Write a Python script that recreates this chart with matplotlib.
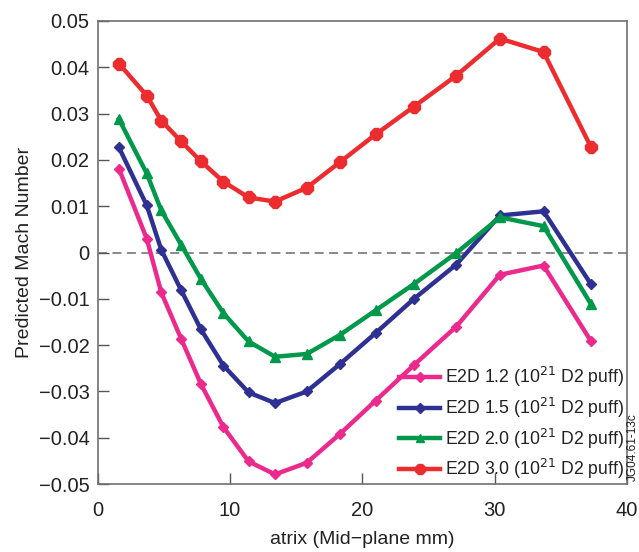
import matplotlib
matplotlib.use("Agg")
import matplotlib.pyplot as plt

plt.rcParams['font.family'] = ['Liberation Sans', 'DejaVu Sans']

x = [1.6, 3.7, 4.8, 6.3, 7.8, 9.5, 11.4, 13.4, 15.8, 18.3, 21.0, 23.9, 27.1, 30.4, 33.7, 37.3]
e2d_12 = [0.0181, 0.0030, -0.0086, -0.0186, -0.0284, -0.0377, -0.0451, -0.0479, -0.0454, -0.0392,
          -0.0320, -0.0243, -0.0160, -0.0048, -0.0028, -0.0192]
e2d_15 = [0.0227, 0.0102, 0.0006, -0.0081, -0.0166, -0.0244, -0.0302, -0.0325, -0.0300, -0.0241,
          -0.0174, -0.0100, -0.0026, 0.0080, 0.0089, -0.0069]
e2d_20 = [0.0288, 0.0171, 0.0091, 0.0017, -0.0057, -0.0131, -0.0192, -0.0225, -0.0219, -0.0178,
          -0.0125, -0.0068, -0.0001, 0.0076, 0.0057, -0.0112]
e2d_30 = [0.0408, 0.0339, 0.0285, 0.0240, 0.0197, 0.0153, 0.0119, 0.0110, 0.0140, 0.0195,
          0.0255, 0.0315, 0.0382, 0.0462, 0.0433, 0.0227]
labels = ['E2D 1.2 (10$^{21}$ D2 puff)', 'E2D 1.5 (10$^{21}$ D2 puff)',
          'E2D 2.0 (10$^{21}$ D2 puff)', 'E2D 3.0 (10$^{21}$ D2 puff)']
xticks = [0, 10, 20, 30, 40]
yticks = [-0.05, -0.04, -0.03, -0.02, -0.01, 0, 0.01, 0.02, 0.03, 0.04, 0.05]
ytick_labels = ['\u22120.05', '\u22120.04', '\u22120.03', '\u22120.02', '\u22120.01', '0',
                '0.01', '0.02', '0.03', '0.04', '0.05']

fig = plt.figure(figsize=(6.39, 5.52), dpi=100)
ax = fig.add_axes([0.153, 0.123, 0.828, 0.839])

ax.axhline(0, color='#808080', lw=1.3, ls=(0, (5, 3)), zorder=1)

styles = [
    (e2d_12, '#EC2A8E', 'D', 5.5),
    (e2d_15, '#2E3192', 'D', 5.5),
    (e2d_20, '#00984A', '^', 7.5),
    (e2d_30, '#EC2C2E', '8', 9),
]
for (vals, c, m, ms), lab in zip(styles, labels):
    ax.plot(x, vals, color=c, marker=m, ms=ms, lw=3.2, label=lab, zorder=3)

ax.set_xlim(0, 40)
ax.set_ylim(-0.05, 0.05)
ax.set_xticks(xticks)
ax.set_yticks(yticks)
ax.set_yticklabels(ytick_labels)
ax.tick_params(direction='in', length=8, width=1, color='#555555', labelsize=14.5,
               labelcolor='#222222')
ax.tick_params(axis='x', pad=12)
ax.tick_params(axis='y', pad=6)
for s in ax.spines.values():
    s.set_color('#707070')
    s.set_linewidth(1.2)

ax.set_xlabel('atrix (Mid\u2212plane mm)', fontsize=14, color='#222222', labelpad=8)
ax.set_ylabel('Predicted Mach Number', fontsize=14, color='#222222', labelpad=4)

leg = ax.legend(loc='lower right', frameon=False, fontsize=12.7, handlelength=2.3,
                borderaxespad=0.0, borderpad=0.15, labelspacing=0.38, handletextpad=0.3,
                markerscale=0.85)
for t in leg.get_texts():
    t.set_color('#222222')

fig.text(0.990, 0.19, 'JG04.61-13c', rotation=90, fontsize=8.5, color='#222222',
         ha='center', va='center')

fig.savefig('out.png', dpi=100)
